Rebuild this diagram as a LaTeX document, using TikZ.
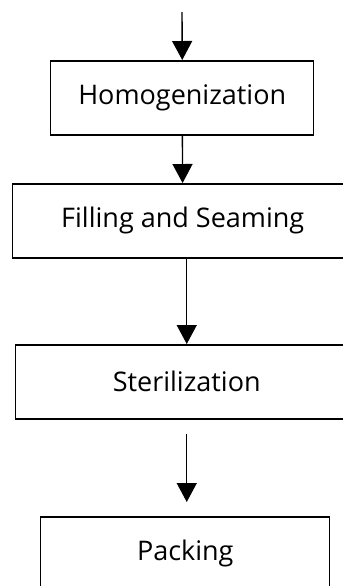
\documentclass[tikz,border=0pt]{standalone}
\usepackage{fontspec}
\setsansfont{Open Sans}
\usetikzlibrary{arrows.meta}

\begin{document}
\begin{tikzpicture}[
		x=0.5pt, y=-0.5pt,
		font=\sffamily\fontsize{13.5}{16}\selectfont,
		% Style for the process steps
		stepbox/.style={
			draw, line width=0.75pt, anchor=north west,
			minimum height=37pt, inner sep=0pt
		},
		% Connector style
		arrow/.style={-{Triangle[length=9.5pt, width=10pt]}, line width=0.7pt}
		]
		
		% Page frame (boxes run past the edges)
		\useasboundingbox (0,0) rectangle (343,586);
		\clip (0,0) rectangle (343,586);
		
		% --- 1. Process steps ---
		\node[stepbox, minimum width=131.5pt] (homog) at (50,60) {Homogenization};
		\node[stepbox, minimum width=170pt] (fill) at (12,183) {Filling and Seaming};
		\node[stepbox, minimum width=171pt] (ster) at (15,344) {Sterilization};
		\node[stepbox, minimum width=144.5pt] (pack) at (40,516) {Packing};
		
		% --- 2. Arrows ---
		\coordinate (start) at (182,12);
		\draw[arrow] (start) -- (homog.north);
		\draw[arrow] (homog) -- (fill);
		\draw[arrow] (ster.north |- fill.south) -- (ster.north);
		\draw[arrow, shorten <=7pt, shorten >=7pt] (ster.south) -- (ster.south |- pack.north);
		
	\end{tikzpicture}
\end{document}
